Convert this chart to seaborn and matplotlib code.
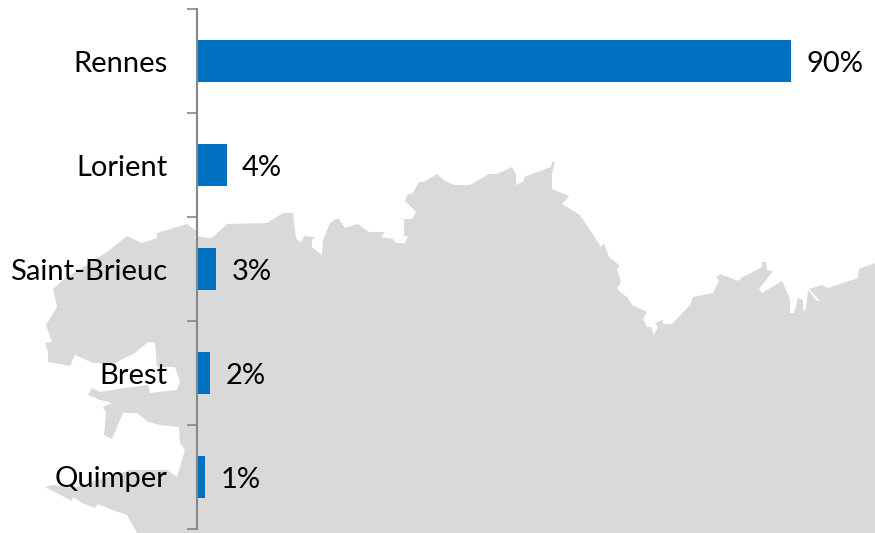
import seaborn as sns
import pandas as pd
import matplotlib.pyplot as plt

cities = ["Rennes", "Lorient", "Saint-Brieuc", "Brest", "Quimper"]
shares = [90.0, 4.5, 2.9, 2.0, 1.2]
share_labels = ["90%", "4%", "3%", "2%", "1%"]

# silhouette of the Brittany coast behind the bars, traced in image pixels
coast_x = [137, 127, 107, 98, 95, 82, 73, 72, 45, 53, 73, 130, 167, 177, 185, 180, 179, 160, 148, 137, 123, 112, 104,
           106, 103, 112, 100, 88, 92, 100, 125, 148, 150, 177, 180, 175, 157, 155, 148, 135, 115, 93, 75, 70, 48, 48,
           45, 52, 46, 57, 53, 63, 107, 127, 142, 157, 157, 187, 199, 193, 197, 208, 213, 227, 267, 283, 292, 293, 296,
           301, 304, 315, 312, 312, 322, 323, 330, 336, 339, 345, 358, 369, 385, 381, 393, 396, 405, 408, 404, 404,
           412, 416, 405, 408, 412, 419, 424, 437, 445, 454, 470, 489, 497, 512, 516, 516, 524, 524, 551, 552, 555,
           552, 552, 569, 562, 580, 590, 601, 604, 609, 620, 617, 621, 617, 620, 628, 632, 647, 643, 647, 651, 654,
           658, 655, 663, 663, 672, 690, 693, 713, 719, 716, 720, 736, 739, 741, 762, 762, 766, 767, 773, 759, 762,
           782, 790, 790, 794, 798, 803, 803, 805, 807, 808, 817, 820, 809, 822, 828, 858, 859, 875, 875]
coast_y = [533, 515, 508, 504, 508, 503, 497, 501, 487, 485, 488, 470, 470, 477, 450, 443, 427, 425, 422, 413, 413, 439, 435,
           413, 407, 403, 400, 395, 388, 392, 388, 385, 393, 390, 382, 367, 367, 343, 342, 353, 363, 363, 355, 366, 362, 352,
           343, 342, 325, 307, 289, 280, 252, 236, 243, 238, 233, 224, 233, 238, 236, 238, 237, 224, 223, 213, 213, 238 - 25, 238,
           243, 236, 237, 240, 247, 255, 240, 223, 219, 219, 228, 224, 232, 232, 237, 239, 243, 243, 236, 236, 219,
           219, 212, 201, 194, 194, 182, 182, 174, 181, 185, 185, 174, 174, 167, 174, 185, 181, 177, 167, 162, 162,
           173, 189, 196, 204, 215, 230, 247, 243, 257, 266, 269, 282, 288, 292, 298, 305, 312, 319, 327, 327, 335,
           327, 323, 320, 324, 324, 305, 297, 293, 280, 278, 274, 280, 281, 278, 267, 262, 262, 270, 271, 289, 293,
           281, 299, 313, 313, 298, 300, 308, 312, 300, 290, 301, 301, 289, 285, 288, 278, 269, 263, 533]

data = pd.DataFrame({"city": cities, "share": shares})

sns.set_theme(style="white")
plt.rcParams["font.family"] = ["Lato", "DejaVu Sans"]

fig = plt.figure(figsize=(8.75, 5.33), dpi=100)

# background map
bg = fig.add_axes([0, 0, 1, 1])
bg.fill(coast_x, coast_y, color="#d9d9d9", lw=0)
bg.set_xlim(0, 875)
bg.set_ylim(533, 0)
bg.axis("off")

# bar chart on top, axes box runs from x=197 to the right edge
ax = fig.add_axes([197 / 875, (533 - 529) / 533, 678 / 875, 520 / 533])
ax.patch.set_alpha(0)
sns.barplot(data=data, x="share", y="city", orient="h", color="#0070c0", saturation=1, width=0.4, linewidth=0, ax=ax)
ax.set_xlim(0, 678 / 6.6)
ax.set_ylim(4.5, -0.5)
ax.set_xlabel("")
ax.set_ylabel("")
ax.xaxis.set_visible(False)

for side in ["top", "right", "bottom"]:
    ax.spines[side].set_visible(False)
ax.spines["left"].set_color("#868686")
ax.spines["left"].set_linewidth(1.5)

# ticks sit between the categories
ax.set_yticks([i - 0.5 for i in range(6)], minor=True)
ax.tick_params(axis="y", which="minor", left=True, length=7, width=1.2, color="#868686")
ax.tick_params(axis="y", which="major", left=False, pad=15.5, labelsize=21, labelcolor="black")

value_labels = ax.bar_label(ax.containers[0], labels=share_labels, padding=11, fontsize=21, color="black")
# nudge down, percent signs sit high otherwise
for t in value_labels:
    t.xyann = (t.xyann[0], t.xyann[1] - 2.5)

fig.savefig("out.png", dpi=100)
